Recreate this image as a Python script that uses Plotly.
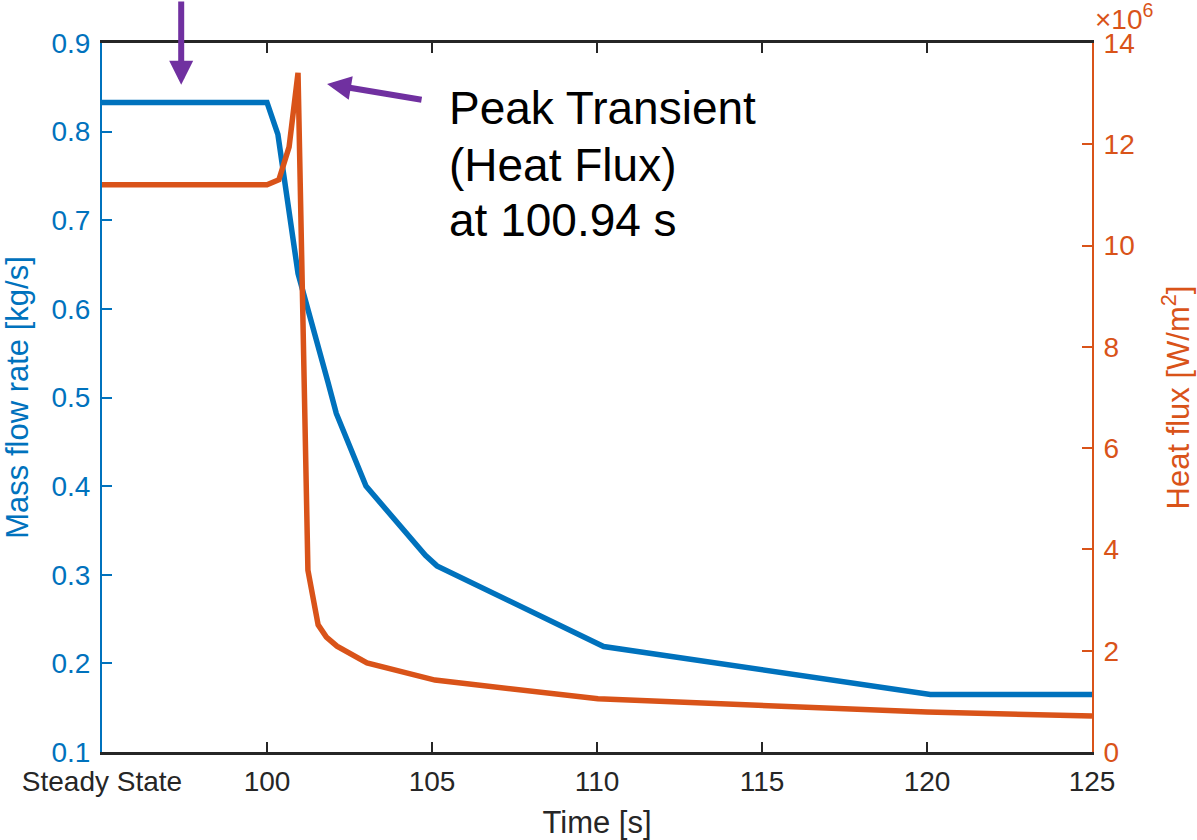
import plotly.graph_objects as go

# ---- data ----
time_mass = [95, 100.0, 100.33, 100.94, 101.85, 102.1, 103.0, 104.8, 105.15, 109.8, 110.2, 120.1, 125]
mass_flow = [0.833, 0.833, 0.797, 0.64, 0.517, 0.482, 0.40, 0.322, 0.31, 0.226, 0.219, 0.165, 0.165]

time_heat = [95, 100.0, 100.36, 100.67, 100.94, 101.24, 101.55, 101.8, 102.12, 103.03, 105.09, 107.06, 110.03, 120.0, 125]
heat_flux_e6 = [11.2, 11.2, 11.3, 11.95, 13.41, 3.59, 2.51, 2.27, 2.09, 1.76, 1.42, 1.28, 1.05, 0.79, 0.71]
heat_flux = [v * 1e6 for v in heat_flux_e6]

x_tickvals = [95, 100, 105, 110, 115, 120, 125]
x_ticktext = ["Steady State", "100", "105", "110", "115", "120", "125"]
y2_tickvals_e6 = [0, 2, 4, 6, 8, 10, 12, 14]
y2_tickvals = [v * 1e6 for v in y2_tickvals_e6]
y2_ticktext = [str(v) for v in y2_tickvals_e6]

peak_lines = ["Peak Transient", "(Heat Flux)", "at 100.94 s"]

BLUE = "#0072BD"
ORANGE = "#D95319"
PURPLE = "#7030A0"
DARK = "#262626"
FONT = "Liberation Sans, Arial, Helvetica, sans-serif"

# plot area at x 102..1092, y 43..752 (page body margin removed below)
W, H = 1197, 840
ML, MT = 102, 43
PW, PH = 990, 709
MR = W - ML - PW
MB = H - MT - PH

fig = go.Figure()
fig.add_trace(go.Scatter(x=time_mass, y=mass_flow, mode="lines",
                         line=dict(color=BLUE, width=5.5), yaxis="y", showlegend=False))
fig.add_trace(go.Scatter(x=time_heat, y=heat_flux, mode="lines",
                         line=dict(color=ORANGE, width=5.5), yaxis="y2", showlegend=False))

fig.update_layout(
    width=W, height=H,
    margin=dict(l=ML, r=MR, t=MT, b=MB, autoexpand=False),
    paper_bgcolor="white", plot_bgcolor="white",
    font=dict(family=FONT, size=28, color=DARK),
    xaxis=dict(range=[95, 125], tickvals=x_tickvals, ticktext=x_ticktext,
               showgrid=False, zeroline=False, showline=True, linecolor=DARK, linewidth=2.5,
               mirror="ticks", ticks="inside", ticklen=10, tickwidth=2, tickcolor=DARK,
               tickfont=dict(size=28, color=DARK), ticklabelstandoff=3,
               title=dict(text="Time [s]", font=dict(size=31, color=DARK), standoff=15)),
    yaxis=dict(range=[0.1, 0.9], dtick=0.1, tickformat=".1f",
               showgrid=False, zeroline=False, showline=True, linecolor=BLUE, linewidth=2,
               ticks="inside", ticklen=10, tickwidth=2, tickcolor=BLUE,
               tickfont=dict(size=28, color=BLUE), ticklabelstandoff=4,
               title=dict(text="Mass flow rate [kg/s]", font=dict(size=31, color=BLUE), standoff=20)),
    yaxis2=dict(range=[0, 14e6], tickvals=y2_tickvals, ticktext=y2_ticktext,
                overlaying="y", side="right",
                showgrid=False, zeroline=False, showline=True, linecolor=ORANGE, linewidth=2,
                ticks="inside", ticklen=10, tickwidth=2, tickcolor=ORANGE,
                tickfont=dict(size=28, color=ORANGE), ticklabelstandoff=4,
                title=dict(text="Heat flux [W/m<sup>2</sup>]", font=dict(size=31, color=ORANGE), standoff=34)),
)

# exponent label  (x10^6)
fig.add_annotation(xref="paper", yref="paper", x=1, y=1, xanchor="left", yanchor="bottom",
                   xshift=1, yshift=6, showarrow=False,
                   text="×10<sup>6</sup>", font=dict(size=28, color=ORANGE))

# vertical arrow to steady state
fig.add_annotation(xref="x", yref="y", x=97.4, y=0.853, ax=0, ay=-100, text="",
                   showarrow=True, arrowhead=2, arrowsize=0.8, arrowwidth=6, arrowcolor=PURPLE)
# arrow to peak
fig.add_annotation(xref="x", yref="y", x=101.82, y=0.8537, ax=96, ay=16, text="",
                   showarrow=True, arrowhead=2, arrowsize=0.8, arrowwidth=6, arrowcolor=PURPLE)
# peak text, one annotation per line
for line, yv in zip(peak_lines, [0.827, 0.7626, 0.7005]):
    fig.add_annotation(xref="x", yref="y", x=105.45, y=yv, xanchor="left", yanchor="middle",
                       showarrow=False, align="left", text=line,
                       font=dict(size=46, color="black"))

fig.write_html("out.html", config={"displayModeBar": False},
               post_script="document.body.style.margin='0';")
